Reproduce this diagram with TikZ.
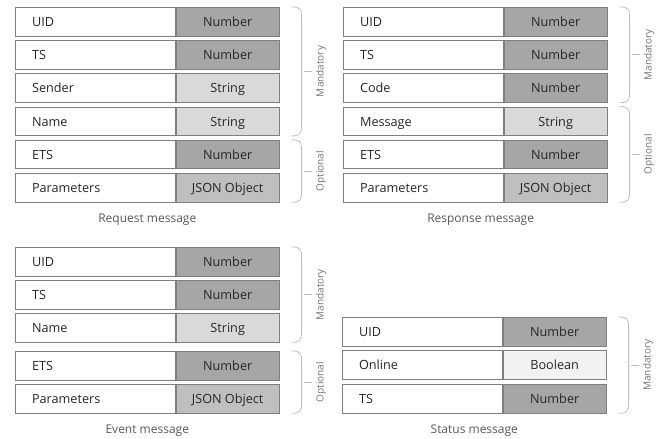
\documentclass[tikz,border=0pt]{standalone}
\usepackage{fontspec}
\setmainfont{Open Sans}
\usepackage{tikz}
\usetikzlibrary{positioning,calc}

\definecolor{numgray}{HTML}{A6A6A6}
\definecolor{strgray}{HTML}{D9D9D9}
\definecolor{jsongray}{HTML}{BFBFBF}
\definecolor{boolgray}{HTML}{F2F2F2}
\definecolor{edgegray}{HTML}{7F7F7F}
\definecolor{bracegray}{HTML}{BFBFBF}

\tikzset{
  namecell/.style={draw=edgegray, line width=0.6pt, fill=white, anchor=north west,
    minimum height=21.4pt, inner ysep=0pt, inner xsep=12.5pt, text width=95pt,
    text height=8.5pt, text depth=1.3pt,
    align=left, font=\fontsize{9.5}{11}\selectfont, text=black!85},
  typecell/.style={draw=edgegray, line width=0.6pt, minimum height=21.4pt,
    minimum width=77.25pt, inner sep=0pt, text height=8.5pt, text depth=1.3pt,
    font=\fontsize{9.5}{11}\selectfont, text=black!85},
  caption/.style={font=\fontsize{9}{11}\selectfont, text=black!65, inner sep=0pt},
  grplabel/.style={font=\fontsize{7.5}{9}\selectfont, text=black!55, rotate=90,
    anchor=north, inner sep=3pt},
  grpline/.style={draw=bracegray, line width=0.6pt},
}

% brace on the right of a group of rows
\newcommand{\grpbrace}[3]{%
  \coordinate (bt) at ($(#1.north east)+(12,0)$);
  \coordinate (bb) at ($(#2.south east)+(12,0)$);
  \draw[grpline] (bt) .. controls +(8,0) and +(0,-8) .. ($(bt)+(10,10)$)
    -- ($(bb)+(10,-10)$) .. controls +(0,8) and +(8,0) .. (bb);
  \draw[grpline] ($(bt)!.5!(bb)+(12,0)$) -- ++(8,0) node[grplabel] {#3};
}

\begin{document}
\begin{tikzpicture}[x=0.75pt, y=-0.75pt]
\useasboundingbox (0,0) rectangle (665,439);

% request
\foreach \f/\t/\c [count=\i] in {UID/Number/numgray, TS/Number/numgray,
    Sender/String/strgray, Name/String/strgray, ETS/Number/numgray,
    Parameters/JSON Object/jsongray}{
  \node[namecell] (req-n\i) at (15, {7+33.2*(\i-1)}) {\f};
  \node[typecell, fill=\c, right=0pt of req-n\i] (req-t\i) {\t};
}
\grpbrace{req-t1}{req-t4}{Mandatory}
\grpbrace{req-t5}{req-t6}{Optional}
\node[caption, below=8.5pt] (req-cap) at ($(req-n6.south west)!.5!(req-t6.south east)$) {Request message};

% response
\foreach \f/\t/\c [count=\i] in {UID/Number/numgray, TS/Number/numgray,
    Code/Number/numgray, Message/String/strgray, ETS/Number/numgray,
    Parameters/JSON Object/jsongray}{
  \node[namecell] (res-n\i) at (343, {7+33.2*(\i-1)}) {\f};
  \node[typecell, fill=\c, right=0pt of res-n\i] (res-t\i) {\t};
}
\grpbrace{res-t1}{res-t3}{Mandatory}
\grpbrace{res-t4}{res-t6}{Optional}
\node[caption, below=8.5pt, xshift=4pt] (res-cap) at ($(res-n6.south west)!.5!(res-t6.south east)$) {Response message};

% event
\foreach \f/\t/\c/\y [count=\i] in {UID/Number/numgray/247, TS/Number/numgray/280,
    Name/String/strgray/313, ETS/Number/numgray/351,
    Parameters/JSON Object/jsongray/384}{
  \node[namecell] (evt-n\i) at (15, \y) {\f};
  \node[typecell, fill=\c, right=0pt of evt-n\i] (evt-t\i) {\t};
}
\grpbrace{evt-t1}{evt-t3}{Mandatory}
\grpbrace{evt-t4}{evt-t5}{Optional}
\node[caption, below=8.5pt] (evt-cap) at ($(evt-n5.south west)!.5!(evt-t5.south east)$) {Event message};

% status
\foreach \f/\t/\c/\y [count=\i] in {UID/Number/numgray/317,
    Online/Boolean/boolgray/350, TS/Number/numgray/384}{
  \node[namecell] (sta-n\i) at (342, \y) {\f};
  \node[typecell, fill=\c, right=0pt of sta-n\i] (sta-t\i) {\t};
}
\grpbrace{sta-t1}{sta-t3}{Mandatory}
\node[caption, below=8.5pt] (sta-cap) at ($(sta-n3.south west)!.5!(sta-t3.south east)$) {Status message};
\end{tikzpicture}
\end{document}
